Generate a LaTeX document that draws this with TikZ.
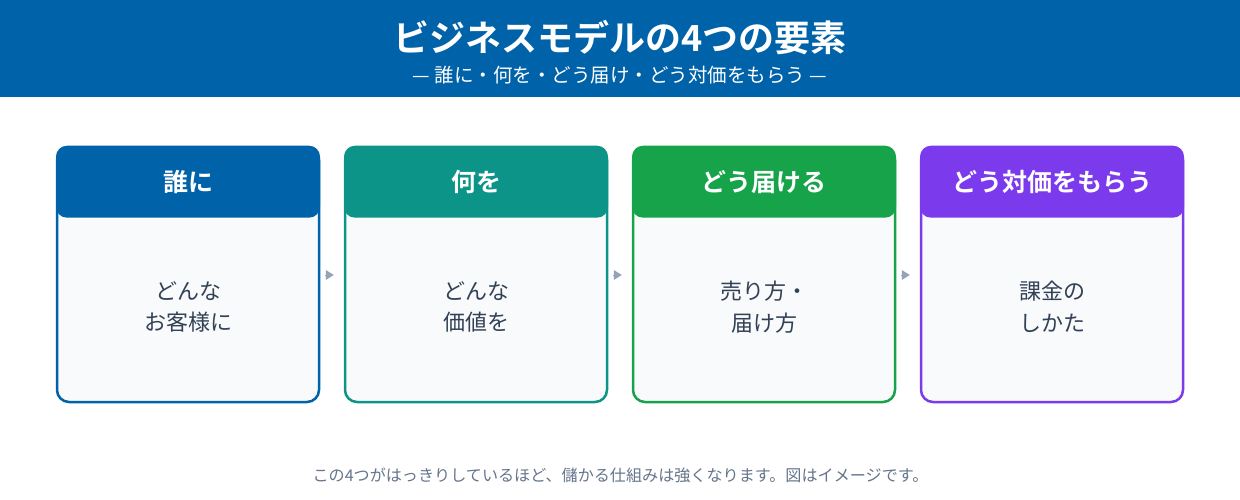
\documentclass[tikz,border=0pt]{standalone}
\usepackage{fontspec}
\setmainfont{Noto Sans CJK JP}[BoldFont={Noto Sans CJK JP Bold}]
\usetikzlibrary{arrows.meta}
\definecolor{hdr}{HTML}{0062A8}
\definecolor{cblue}{HTML}{0062A8}
\definecolor{cteal}{HTML}{0D9488}
\definecolor{cgreen}{HTML}{16A34A}
\definecolor{cpurple}{HTML}{7C3AED}
\definecolor{bodybg}{HTML}{F8FAFC}
\definecolor{bodytxt}{HTML}{334155}
\definecolor{foottxt}{HTML}{64748B}
\definecolor{arr}{HTML}{94A3B8}
\tikzset{
  card/.style={draw=#1, line width=2.5pt, fill=bodybg, rounded corners=12pt,
    minimum width=262pt, minimum height=254pt, inner sep=0pt},
  cardhead/.style={fill=#1, rounded corners=11pt, minimum width=264pt,
    minimum height=72pt, inner sep=0pt, text=white,
    font=\fontsize{25}{28}\selectfont\bfseries},
  cardbody/.style={text=bodytxt, align=center,
    font=\fontsize{22}{31.5}\selectfont},
  flow/.style={arr, line width=0pt, -{Triangle[length=8pt,width=10pt]},
    shorten <=6pt, shorten >=10pt}
}
\begin{document}
\begin{tikzpicture}[x=1pt,y=-1pt]
\useasboundingbox (0,0) rectangle (1240,500);
\fill[hdr] (0,0) rectangle (1240,97);
\node[text=white, font=\fontsize{36}{40}\selectfont\bfseries] (title) at (620,38) {ビジネスモデルの4つの要素};
\node[text=white, font=\fontsize{19.5}{22}\selectfont] (subtitle) at (620,75) {— 誰に・何を・どう届け・どう対価をもらう —};

\foreach \i/\x/\c/\h/\b in {1/188/cblue/誰に/{どんな\\お客様に},
                             2/476/cteal/何を/{どんな\\価値を},
                             3/764/cgreen/どう届ける/{売り方・\\届け方},
                             4/1052/cpurple/どう対価をもらう/{課金の\\しかた}}{
  \node[card=\c] (card\i) at (\x,275) {};
  \node[cardhead=\c, anchor=north] (head\i) at ([yshift=1.25pt]card\i.north) {\h};
  \node[cardbody] (body\i) at (\x,307) {\b};
}
\draw[flow] (card1.east) -- (card2.west);
\draw[flow] (card2.east) -- (card3.west);
\draw[flow] (card3.east) -- (card4.west);

\node[text=foottxt, font=\fontsize{16.1}{19}\selectfont] (foot) at (620.5,475) {この4つがはっきりしているほど、儲かる仕組みは強くなります。図はイメージです。};
\end{tikzpicture}
\end{document}
